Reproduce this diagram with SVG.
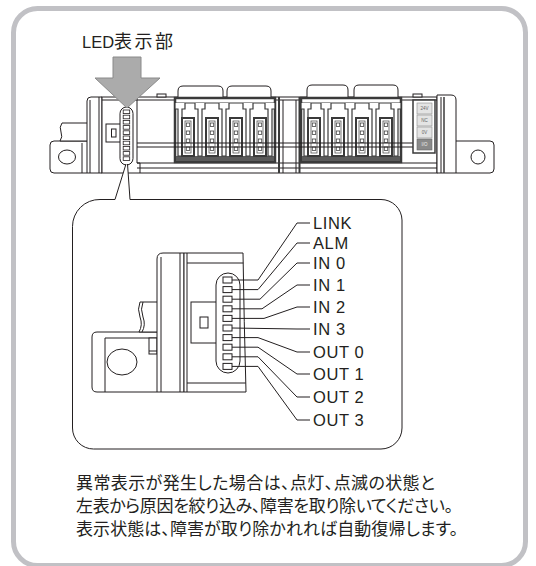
<svg xmlns="http://www.w3.org/2000/svg" width="536" height="566" viewBox="0 0 536 566">
<style>
.ln{fill:none;stroke:#231f20;stroke-width:1}
.lw{fill:#fff;stroke:#231f20;stroke-width:1}
.dk{fill:#fff;stroke:#3a3a3a;stroke-width:2.5}
.lbl{font-family:"Liberation Sans","Noto Sans CJK JP",sans-serif;font-size:16.5px;letter-spacing:0.6px;fill:#231f20}
.ttl{font-family:"Liberation Sans","Noto Sans CJK JP",sans-serif;font-size:16.5px;fill:#231f20}
.cap{font-family:"Noto Sans CJK JP","Liberation Sans",sans-serif;font-size:17px;font-feature-settings:"palt";fill:#231f20}
.tiny{font-family:"Liberation Sans",sans-serif;font-size:4.5px;text-anchor:middle}
.lead{fill:none;stroke:#231f20;stroke-width:1}
</style>
<defs>
<g id="conn">
<rect x="0" y="0" width="12" height="38" fill="#fff" stroke="#3a3a3a" stroke-width="2"/>
<rect x="3" y="3" width="6" height="32" fill="#fff" stroke="#555" stroke-width="0.8"/>
<rect x="4.3" y="5" width="3.4" height="3.4" fill="#fff" stroke="#444" stroke-width="0.8"/>
<rect x="4.3" y="13" width="3.4" height="3.4" fill="#fff" stroke="#444" stroke-width="0.8"/>
<rect x="4.3" y="21" width="3.4" height="3.4" fill="#fff" stroke="#444" stroke-width="0.8"/>
<rect x="4.3" y="29" width="3.4" height="3.4" fill="#fff" stroke="#444" stroke-width="0.8"/>
</g>
<g id="pillar">
<path d="M-5,5 V11 H-2 V58 H2 V11 H5 V5" fill="#fff" stroke="#3a3a3a" stroke-width="1.2"/>
</g>
<g id="block">
<rect x="0" y="0" width="100" height="64" class="dk"/>
<line x1="1" y1="5" x2="99" y2="5" stroke="#3a3a3a" stroke-width="1"/>
<rect x="1" y="58" width="98" height="5" fill="#5a5a5a"/>
<use href="#pillar" x="25"/>
<use href="#pillar" x="49"/>
<use href="#pillar" x="73"/>
<use href="#pillar" x="95"/>
<use href="#pillar" x="5"/>
<use href="#conn" x="7" y="20"/>
<use href="#conn" x="31" y="20"/>
<use href="#conn" x="55" y="20"/>
<use href="#conn" x="79" y="20"/>
</g>
<g id="led"><rect x="0" y="0" width="6.5" height="3.6" fill="#fff" stroke="#231f20" stroke-width="0.8"/></g>
<g id="bled"><rect x="0" y="0" width="9" height="6" fill="#fff" stroke="#231f20" stroke-width="1"/></g>
</defs>

<rect id="frame" x="13.5" y="8.5" width="512" height="557" rx="24" fill="#fff" stroke="#c1c1c5" stroke-width="5"/>

<g id="title">
<text class="ttl" x="82" y="48">LED<tspan font-size="18" letter-spacing="2.5" font-family="Noto Sans CJK JP, sans-serif">表示部</tspan></text>
</g>

<g id="device">
<path class="lw" d="M87,141 H54 Q50,141 50,145 V169 Q50,173 54,173 H87"/>
<line class="ln" x1="82" y1="143" x2="82" y2="173"/>
<ellipse class="ln" cx="67" cy="157" rx="8.5" ry="7"/>
<path class="lw" d="M87,123 H62 Q59,127 61,132 Q63,137 60,141 H87"/>
<path class="lw" d="M87,173 V101 Q87,97 91,97 H102 V173 Z"/>
<line class="ln" x1="90" y1="100" x2="90" y2="173"/>
<line class="ln" x1="99" y1="97" x2="99" y2="173"/>
<rect class="lw" x="102" y="97" width="335" height="76"/>
<line class="ln" x1="102" y1="100" x2="437" y2="100"/>
<rect class="lw" x="157" y="94" width="9" height="3"/>
<rect class="lw" x="413" y="94" width="9" height="3"/>
<line class="ln" x1="137" y1="97" x2="137" y2="163"/>
<path class="ln" d="M137,163 H140 V173"/>
<line class="ln" x1="137" y1="163" x2="437" y2="163"/>
<line class="ln" x1="137" y1="168" x2="437" y2="168"/>
<rect class="lw" x="106" y="124" width="15" height="18"/>
<rect class="lw" x="111.5" y="129" width="4.5" height="8"/>
<rect class="lw" x="120" y="107" width="13" height="58" rx="6.5"/>
<use href="#led" x="123.2" y="110"/>
<use href="#led" x="123.2" y="115.2"/>
<use href="#led" x="123.2" y="120.4"/>
<use href="#led" x="123.2" y="125.6"/>
<use href="#led" x="123.2" y="130.8"/>
<use href="#led" x="123.2" y="136"/>
<use href="#led" x="123.2" y="141.2"/>
<use href="#led" x="123.2" y="146.4"/>
<use href="#led" x="123.2" y="151.6"/>
<use href="#led" x="123.2" y="156.8"/>
<path class="lw" d="M178,97 V91 Q178,86 183,86 H218 Q223,86 223,91 V97"/>
<path class="lw" d="M227,97 V91 Q227,86 232,86 H266 Q271,86 271,91 V97"/>
<path class="lw" d="M307,97 V90 Q307,85 312,85 H343 Q348,85 348,90 V97"/>
<path class="lw" d="M354,97 V90 Q354,85 359,85 H393 Q398,85 398,90 V97"/>
<use href="#block" x="175" y="98"/>
<use href="#block" x="301" y="98"/>
<line x1="279" y1="97" x2="279" y2="173" stroke="#3a3a3a" stroke-width="2"/>
<line class="ln" x1="283" y1="100" x2="283" y2="173"/>
<line class="ln" x1="296" y1="100" x2="296" y2="173"/>
<line x1="299.5" y1="97" x2="299.5" y2="173" stroke="#3a3a3a" stroke-width="2"/>
<line class="ln" x1="137" y1="143" x2="413" y2="143"/>
<line class="ln" x1="137" y1="147" x2="413" y2="147"/>
<rect x="413" y="100" width="22" height="53" fill="#fff" stroke="#3a3a3a" stroke-width="1.5"/>
<rect x="417" y="103" width="15" height="11" fill="#e4e4e4" stroke="#888" stroke-width="0.6"/>
<rect x="417" y="115" width="15" height="11" fill="#e4e4e4" stroke="#888" stroke-width="0.6"/>
<rect x="417" y="127" width="15" height="11" fill="#e4e4e4" stroke="#888" stroke-width="0.6"/>
<rect x="417" y="139" width="15" height="11" fill="#8a8a8a" stroke="#666" stroke-width="0.6"/>
<text class="tiny" x="424.5" y="110.3" fill="#666">24V</text>
<text class="tiny" x="424.5" y="122.3" fill="#666">NC</text>
<text class="tiny" x="424.5" y="134.3" fill="#666">0V</text>
<text class="tiny" x="424.5" y="146.3" fill="#eee">I/O</text>
<path class="lw" d="M456,141 H490 Q494,141 494,145 V169 Q494,173 490,173 H456"/>
<circle class="ln" cx="478" cy="157" r="7"/>
<path class="lw" d="M437,173 V95 H451 Q456,95 456,100 V173 Z"/>
<line class="ln" x1="441" y1="97" x2="441" y2="173"/>
<line x1="444" y1="97" x2="444" y2="173" stroke="#3a3a3a" stroke-width="1.5"/>
</g>

<g id="arrow">
<path d="M113,57 H141 V78 H160 L127,108 L95,78 H113 Z" fill="#ababab" stroke="#8a8a8a" stroke-width="1"/>
</g>

<g id="inset">
<path class="lw" d="M126,164 L115,199.5 H100 A27,27 0 0 0 72.5,226.5 V428 A21,21 0 0 0 93.5,449 H381 A21,21 0 0 0 402,428 V220 A21,21 0 0 0 381,199.5 H130 L127.5,164"/>
<path class="lw" d="M157,332 H97 Q92,332 92,337 V387 Q92,392 97,392 H157"/>
<path class="ln" d="M157,338 H105 V392"/>
<ellipse class="ln" cx="122" cy="362" rx="15" ry="13"/>
<rect class="lw" x="149" y="338" width="8" height="16"/>
<line class="ln" x1="149" y1="351" x2="157" y2="351"/>
<path class="lw" d="M157,302 H140 Q137,309 140,317 Q143,325 139,332 H157"/>
<path class="ln" d="M143,302 Q140,309 143,317 Q146,325 142,332"/>
<path class="lw" d="M157,392 V259 Q157,253 163,253 H184 V392 Z"/>
<line class="ln" x1="161" y1="257" x2="161" y2="392"/>
<line class="ln" x1="180" y1="253" x2="180" y2="392"/>
<path class="lw" d="M184,253 H243 Q244,320 246,392 H184 Z"/>
<line class="ln" x1="187" y1="253" x2="187" y2="392"/>
<line class="ln" x1="187" y1="263" x2="243.3" y2="263"/>
<line class="ln" x1="187" y1="383" x2="245.7" y2="383"/>
<rect class="lw" x="191" y="302" width="26" height="41"/>
<rect class="lw" x="200" y="317" width="8" height="11"/>
<rect class="lw" x="216" y="273" width="24" height="100" rx="12"/>
<use href="#bled" x="223" y="277"/>
<use href="#bled" x="223" y="286.6"/>
<use href="#bled" x="223" y="296.2"/>
<use href="#bled" x="223" y="305.8"/>
<use href="#bled" x="223" y="315.4"/>
<use href="#bled" x="223" y="325"/>
<use href="#bled" x="223" y="334.6"/>
<use href="#bled" x="223" y="344.2"/>
<use href="#bled" x="223" y="353.8"/>
<use href="#bled" x="223" y="363.4"/>
</g>

<g id="connectors">
<path class="lead" d="M232,280 H258 L297,223 H310"/>
<path class="lead" d="M232,289.6 H258 L297,243 H310"/>
<path class="lead" d="M232,299.2 H260 L297,263 H310"/>
<path class="lead" d="M232,308.8 H262 L297,285 H310"/>
<path class="lead" d="M232,318.4 H264 L297,307 H310"/>
<path class="lead" d="M232,328 L297,329 H310"/>
<path class="lead" d="M232,337.6 H258 L297,352 H310"/>
<path class="lead" d="M232,347.2 H258 L297,374 H310"/>
<path class="lead" d="M232,356.8 H258 L297,397 H310"/>
<path class="lead" d="M232,366.4 H258 L297,420 H310"/>
</g>

<g id="labels">
<text class="lbl" x="313" y="228.5">LINK</text>
<text class="lbl" x="313" y="248.5">ALM</text>
<text class="lbl" x="313" y="268.5">IN 0</text>
<text class="lbl" x="313" y="290.5">IN 1</text>
<text class="lbl" x="313" y="312.5">IN 2</text>
<text class="lbl" x="313" y="334.5">IN 3</text>
<text class="lbl" x="313" y="357.5">OUT 0</text>
<text class="lbl" x="313" y="379.5">OUT 1</text>
<text class="lbl" x="313" y="402.5">OUT 2</text>
<text class="lbl" x="313" y="425.5">OUT 3</text>
</g>

<g id="caption">
<text class="cap" x="76" y="489" textLength="359">異常表示が発生した場合は、点灯、点滅の状態と</text>
<text class="cap" x="76" y="512" textLength="377">左表から原因を絞り込み、障害を取り除いてください。</text>
<text class="cap" x="76" y="535" textLength="382">表示状態は、障害が取り除かれれば自動復帰します。</text>
</g>
</svg>
